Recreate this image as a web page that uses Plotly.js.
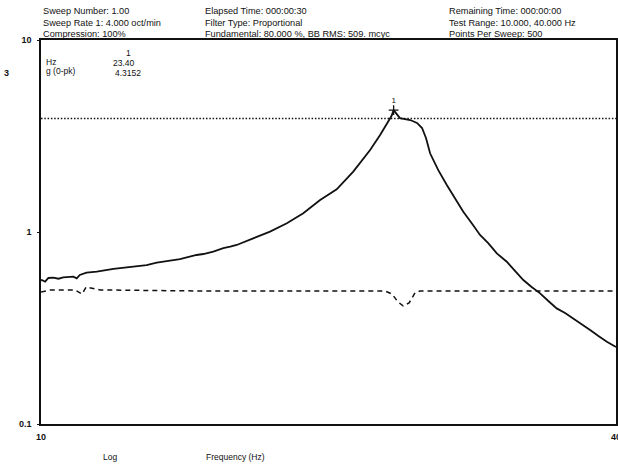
<!DOCTYPE html>
<html><head><meta charset="utf-8">
<script src="https://cdn.plot.ly/plotly-3.0.1.min.js"></script>
<style>html,body{margin:0;padding:0;background:#fff}#chart{width:618px;height:466px}</style>
</head><body><div id="chart"></div>
<script>
// Response (g 0-pk) vs frequency (Hz)
const responseFreq = [10.0, 10.02, 10.10, 10.18, 10.30, 10.43, 10.55, 10.81, 10.90, 10.98, 11.16, 11.44, 11.91, 12.39, 12.90, 13.22, 13.43, 13.98, 14.55, 14.79, 15.15, 15.52, 15.78, 16.03, 16.68, 17.37, 18.09, 18.82, 19.60, 20.40, 21.23, 22.11, 22.65, 23.01, 23.28, 23.40, 23.76, 24.35, 24.76, 25.06, 25.30, 25.55, 26.06, 26.60, 27.13, 27.68, 28.25, 28.82, 29.41, 30.01, 30.74, 31.35, 31.99, 32.64, 33.31, 33.98, 34.67, 35.38, 36.09, 36.84, 37.58, 38.34, 39.13, 40.0];
const responseG    = [0.560, 0.562, 0.551, 0.576, 0.578, 0.571, 0.581, 0.585, 0.574, 0.597, 0.614, 0.621, 0.642, 0.655, 0.673, 0.692, 0.700, 0.723, 0.759, 0.768, 0.790, 0.823, 0.838, 0.856, 0.927, 1.004, 1.110, 1.251, 1.468, 1.669, 2.062, 2.674, 3.20, 3.68, 4.02, 4.3152, 3.92, 3.83, 3.70, 3.48, 3.09, 2.57, 2.10, 1.757, 1.498, 1.276, 1.110, 0.965, 0.873, 0.774, 0.700, 0.626, 0.562, 0.517, 0.479, 0.437, 0.400, 0.379, 0.355, 0.332, 0.309, 0.287, 0.268, 0.252];
// Control / reference (dashed)
const controlFreq = [10.0, 10.22, 10.85, 11.04, 11.15, 11.53, 14.67, 22.92, 23.31, 23.65, 23.94, 24.29, 24.64, 24.94, 30.24, 40.0];
const controlG    = [0.487, 0.499, 0.499, 0.475, 0.517, 0.499, 0.493, 0.493, 0.475, 0.432, 0.412, 0.427, 0.482, 0.493, 0.493, 0.493];
// Abort / limit (dotted)
const limitFreq = [10, 40];
const limitG = [3.9, 3.9];
// Peak cursor
const peakLabel = '1';
const peakFreq = 23.40;
const peakG = 4.3152;
// Axis ticks
const xTickVals = [10, 40];
const xTickText = ['10', '40'];
const yTickVals = [0.1, 1, 10];
const yTickText = ['0.1', '1', '10'];
const xTitleLeft = 'Log';
const xTitleMain = 'Frequency (Hz)';
// Header text
const headerCol1 = ['Sweep Number: 1.00', 'Sweep Rate 1: 4.000 oct/min', 'Compression: 100%'];
const headerCol2 = ['Elapsed Time: 000:00:30', 'Filter Type: Proportional', 'Fundamental: 80.000 %, BB RMS: 509. mcyc'];
const headerCol3 = ['Remaining Time: 000:00:00', 'Test Range: 10.000, 40.000 Hz', 'Points Per Sweep: 500'];
const cursorNames = ['Hz', 'g (0-pk)'];
const strayLabel = '3';

const W = 618, H = 466;
const M = {l: 41, r: 2, t: 40, b: 42};
const PW = W - M.l - M.r, PH = H - M.t - M.b;
const px = x => (x - M.l) / PW;
const py = y => (H - M.b - y) / PH;
const FONT = 'Liberation Sans, Arial, sans-serif';
const ink = '#111';

const ann = [];
function txt(text, x, y, anchor, size, weight) {
  ann.push({text: text, xref: 'paper', yref: 'paper', x: px(x), y: py(y),
    xanchor: anchor || 'left', yanchor: 'middle', showarrow: false,
    font: {family: FONT, size: size || 9, color: ink, weight: weight || 'normal'}});
}
const rows = [11, 23, 34];
headerCol1.forEach((t, i) => txt(t, 41, rows[i], 'left', 9.2));
headerCol2.forEach((t, i) => txt(t, 203, rows[i], 'left', 9.2));
headerCol3.forEach((t, i) => txt(t, 447, rows[i], 'left', 9.2));
txt(peakLabel, 128, 53, 'center', 8.5);
txt(cursorNames[0], 44, 62, 'left', 8.5);
txt(peakFreq.toFixed(2), 111, 63, 'left', 8.5);
txt(cursorNames[1], 44, 71, 'left', 8.5);
txt(peakG.toFixed(4), 113, 73, 'left', 8.5);
txt(strayLabel, 6, 73, 'center', 9, 'bold');
txt(xTitleLeft, 110, 457, 'center', 8.5);
txt(xTitleMain, 235, 457, 'center', 8.5);

const traces = [
  {x: limitFreq, y: limitG, mode: 'lines', line: {color: ink, width: 1.4, dash: '1.5px,1.8px'}, hoverinfo: 'skip'},
  {x: controlFreq, y: controlG, mode: 'lines', line: {color: ink, width: 1.5, dash: '5px,4px'}, hoverinfo: 'skip'},
  {x: responseFreq, y: responseG, mode: 'lines', line: {color: ink, width: 1.8}, hoverinfo: 'skip'},
  {x: [peakFreq], y: [peakG], mode: 'markers+text', text: [peakLabel], textposition: 'top center',
   textfont: {family: FONT, size: 8, color: ink},
   marker: {symbol: 'cross-thin', size: 7, color: ink, line: {color: ink, width: 1.3}}, hoverinfo: 'skip'}
];

const layout = {
  width: W, height: H, margin: M, showlegend: false,
  paper_bgcolor: '#fff', plot_bgcolor: 'rgba(0,0,0,0)',
  font: {family: FONT, size: 9, color: ink},
  xaxis: {type: 'log', range: [Math.log10(10), Math.log10(40)], showgrid: false, zeroline: false,
    showline: true, mirror: true, linecolor: ink, linewidth: 1.6,
    tickvals: xTickVals, ticktext: xTickText, ticks: '', ticklabelstandoff: 4,
    ticklabeloverflow: 'allow',
    tickfont: {family: FONT, size: 9, color: ink, weight: 'bold'}},
  yaxis: {type: 'log', range: [-1, 1], showgrid: false, zeroline: false,
    showline: true, mirror: true, linecolor: ink, linewidth: 1.6,
    tickvals: yTickVals, ticktext: yTickText, ticks: 'outside', ticklen: 2, tickcolor: ink,
    ticklabelstandoff: 4, ticklabeloverflow: 'allow',
    tickfont: {family: FONT, size: 9, color: ink, weight: 'bold'}},
  annotations: ann
};
Plotly.newPlot('chart', traces, layout, {staticPlot: true, displayModeBar: false});
</script></body></html>
